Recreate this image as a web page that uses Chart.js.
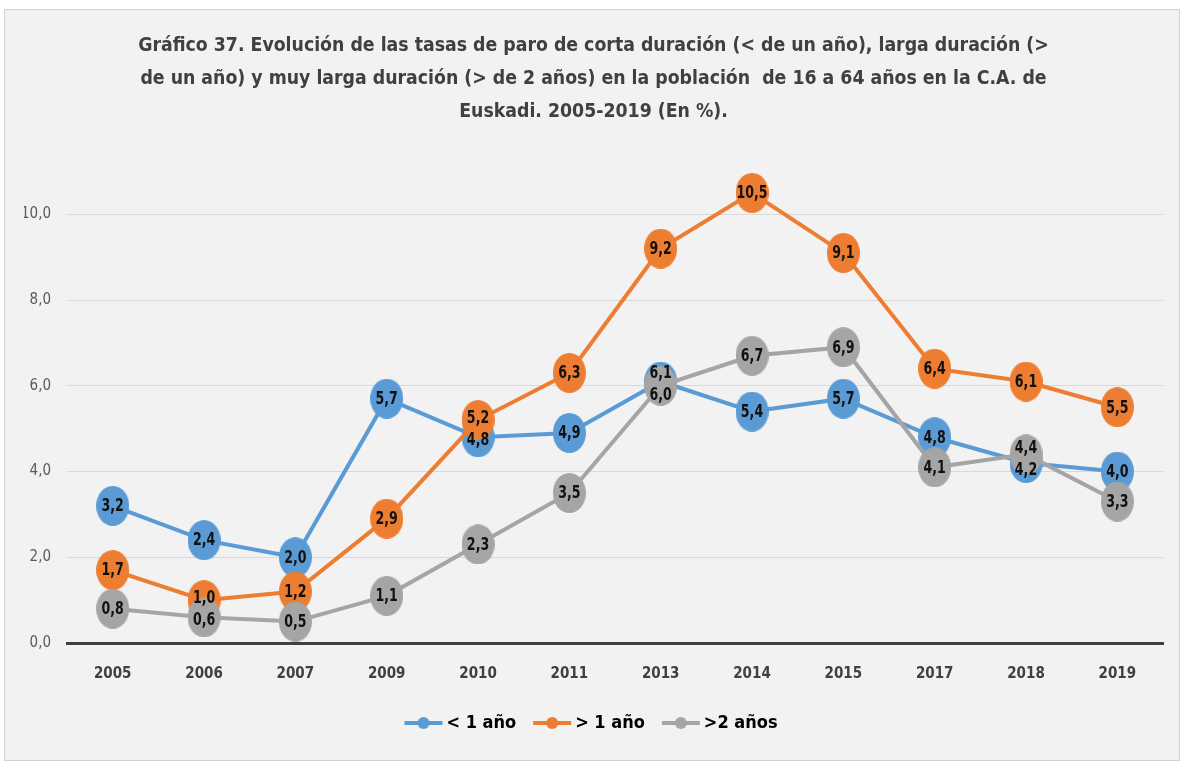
<!DOCTYPE html>
<html>
<head>
<meta charset="utf-8">
<script src="https://cdn.jsdelivr.net/npm/chart.js@4/dist/chart.umd.min.js"></script>
<style>
  html, body { margin: 0; padding: 0; background: #ffffff; }
  #box {
    position: absolute; left: 4px; top: 9px;
    width: 1176px; height: 752px;
    background: #f2f2f2; border: 1px solid #d0d0d0;
    box-sizing: border-box;
  }
  #chart { display: block; }
</style>
</head>
<body>
<div id="box"><canvas id="chart" width="1174" height="750"></canvas></div>
<script>
// años y tasas de paro (%)
var years = ["2005", "2006", "2007", "2009", "2010", "2011", "2013", "2014", "2015", "2017", "2018", "2019"];
var shortTerm = [3.2, 2.4, 2.0, 5.7, 4.8, 4.9, 6.1, 5.4, 5.7, 4.8, 4.2, 4.0];
var longTerm = [1.7, 1.0, 1.2, 2.9, 5.2, 6.3, 9.2, 10.5, 9.1, 6.4, 6.1, 5.5];
var veryLongTerm = [0.8, 0.6, 0.5, 1.1, 2.3, 3.5, 6.0, 6.7, 6.9, 4.1, 4.4, 3.3];
var seriesNames = ["< 1 año", "> 1 año", ">2 años"];
var seriesColors = ["#5b9bd5", "#ed7d31", "#a5a5a5"];
var yTicks = [0, 2, 4, 6, 8, 10];

var narrow = "'Liberation Sans Narrow', 'DejaVu Sans Condensed', 'Arial Narrow', sans-serif";

function fmt(v) {
    return v.toFixed(1).replace(".", ",");
}

// slightly tall oval used as the data marker
function ovalMarker(color) {
    var c = document.createElement("canvas");
    c.width = 33;
    c.height = 40;
    var g = c.getContext("2d");
    g.fillStyle = color;
    g.beginPath();
    g.ellipse(16.5, 20, 16.5, 20, 0, 0, Math.PI * 2);
    g.fill();
    return c;
}

// little line-with-dot marker for the legend
function legendMarker(color) {
    var c = document.createElement("canvas");
    c.width = 40;
    c.height = 14;
    var g = c.getContext("2d");
    g.strokeStyle = color;
    g.lineWidth = 4;
    g.beginPath();
    g.moveTo(1, 7);
    g.lineTo(39, 7);
    g.stroke();
    g.fillStyle = color;
    g.beginPath();
    g.arc(20, 7, 6, 0, Math.PI * 2);
    g.fill();
    return c;
}

// value labels centred on the markers, nudged apart when two collide
var valueLabels = {
    id: "valueLabels",
    afterDatasetsDraw: function (chart) {
        var ctx = chart.ctx;
        for (var i = 0; i < years.length; i++) {
            var items = [];
            chart.data.datasets.forEach(function (ds, d) {
                var pt = chart.getDatasetMeta(d).data[i];
                items.push({ x: pt.x, y: pt.y, text: fmt(ds.data[i]) });
            });
            items.sort(function (a, b) { return a.y - b.y; });
            for (var k = 0; k < items.length - 1; k++) {
                var a = items[k], b = items[k + 1];
                if (b.y - a.y < 20) {
                    var mid = (a.y + b.y) / 2;
                    a.y = mid - 11;
                    b.y = mid + 11;
                }
            }
            items.forEach(function (it) {
                ctx.save();
                ctx.translate(it.x, it.y + 1);
                ctx.scale(1, 1.2);
                ctx.font = "bold 14px " + narrow;
                ctx.fillStyle = "#111111";
                ctx.textAlign = "center";
                ctx.textBaseline = "middle";
                ctx.fillText(it.text, 0, 0);
                ctx.restore();
            });
        }
    }
};

function makeSeries(label, data, color, order) {
    return {
        label: label,
        data: data,
        borderColor: color,
        backgroundColor: color,
        borderWidth: 4,
        pointStyle: ovalMarker(color),
        pointRadius: 20,
        pointHoverRadius: 20,
        tension: 0,
        clip: false,
        order: order
    };
}

var ctx1 = document.getElementById("chart");

var chart1 = new Chart(ctx1, {
    type: "line",
    data: {
        labels: years,
        datasets: [
            makeSeries(seriesNames[0], shortTerm, seriesColors[0], 2),
            makeSeries(seriesNames[1], longTerm, seriesColors[1], 1),
            makeSeries(seriesNames[2], veryLongTerm, seriesColors[2], 0)
        ]
    },
    options: {
        responsive: false,
        animation: false,
        layout: {
            autoPadding: false,
            padding: { left: 19, right: 16, top: 0, bottom: 18 }
        },
        plugins: {
            tooltip: { enabled: false },
            title: {
                display: true,
                text: [
                    "Gráfico 37. Evolución de las tasas de paro de corta duración (< de un año), larga duración (>",
                    "de un año) y muy larga duración (> de 2 años) en la población  de 16 a 64 años en la C.A. de",
                    "Euskadi. 2005-2019 (En %)."
                ],
                color: "#404040",
                font: { family: narrow, size: 19.3, weight: "bold", lineHeight: 1.72 },
                padding: { top: 19, bottom: 0 }
            },
            legend: {
                display: true,
                position: "bottom",
                labels: {
                    color: "#404040",
                    font: { family: narrow, size: 18, weight: "bold" },
                    usePointStyle: true,
                    pointStyleWidth: 28,
                    padding: 22,
                    generateLabels: function (chart) {
                        return chart.data.datasets.map(function (ds, i) {
                            return {
                                text: ds.label,
                                pointStyle: legendMarker(seriesColors[i]),
                                fillStyle: seriesColors[i],
                                strokeStyle: seriesColors[i],
                                lineWidth: 0,
                                datasetIndex: i
                            };
                        });
                    }
                }
            }
        },
        scales: {
            x: {
                offset: true,
                grid: { display: false },
                border: { display: true, color: "#404040", width: 3 },
                ticks: {
                    color: "#404040",
                    font: { family: narrow, size: 15, weight: "bold" },
                    padding: 14
                },
                afterFit: function (axis) {
                    axis.height -= 5;
                    axis.paddingLeft = 0;
                    axis.paddingRight = 0;
                }
            },
            y: {
                min: 0,
                max: 12,
                afterBuildTicks: function (axis) {
                    axis.ticks = yTicks.map(function (v) { return { value: v }; });
                },
                afterFit: function (axis) {
                    axis.width -= 19;
                },
                grid: { color: "#d9d9d9", lineWidth: 1, drawTicks: false },
                border: { display: false },
                ticks: {
                    color: "#595959",
                    font: { family: narrow, size: 15 },
                    padding: 16,
                    callback: function (v) { return fmt(v); }
                }
            }
        }
    },
    plugins: [valueLabels]
});
</script>
</body>
</html>
